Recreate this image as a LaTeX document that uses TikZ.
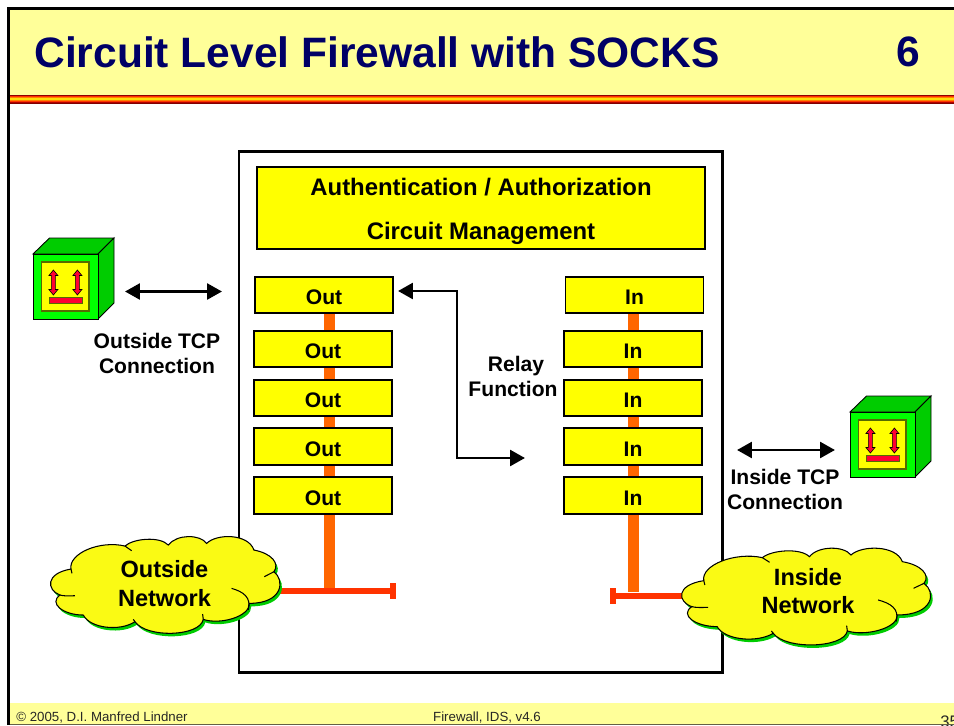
\documentclass[tikz,border=0pt]{standalone}
\usepackage{fontspec}
\setmainfont{Liberation Sans}
\usetikzlibrary{arrows.meta}
\definecolor{headfill}{HTML}{FFFF99}
\definecolor{titleblue}{HTML}{000066}
\definecolor{boxyellow}{HTML}{FFFF00}
\definecolor{trunkorange}{HTML}{FF6600}
\definecolor{stubred}{HTML}{FF3300}
\definecolor{cloudfill}{HTML}{FAFA14}
\definecolor{cubelight}{HTML}{00FF00}
\definecolor{cubedark}{HTML}{00CC00}
\definecolor{cubered}{HTML}{FF0033}
\definecolor{cubeedge}{HTML}{556B00}
\def\cloudoutline{(21.3,17.7) .. controls (20.5,13) and (30,9) .. (37.5,10.8)
    .. controls (40,8.5) and (48,7.8) .. (50.5,10.5)
    .. controls (53,7.2) and (60,7.2) .. (62,10)
    .. controls (65,7) and (74.5,7) .. (76.2,12)
    .. controls (81.5,13) and (84,16) .. (82.2,18.5)
    .. controls (85.5,21) and (85,28) .. (74.8,28)
    .. controls (75,32) and (66,34.5) .. (61,32.8)
    .. controls (60,38) and (44,38.5) .. (40.5,33.5)
    .. controls (36,36.5) and (27,35.5) .. (25,31.5)
    .. controls (19,31.5) and (14.5,28) .. (18,25.5)
    .. controls (14,24) and (13.5,19) .. (21.3,17.7) -- cycle}
\begin{document}
\begin{tikzpicture}[scale=0.2]
                \tikzstyle{every node}+=[inner sep=0pt]
                \tikzstyle{boxnode}=[draw=black, fill=boxyellow, line width=1.1pt, minimum width=2.76cm, minimum height=0.73cm, text height=11.2pt, text depth=0pt, font=\fontsize{12}{14}\selectfont\bfseries]
                \tikzstyle{plainlabel}=[align=center, font=\fontsize{12}{14.2}\selectfont\bfseries]
                \tikzstyle{cloudlabel}=[align=center, font=\fontsize{13.4}{16.4}\selectfont\bfseries]
                \tikzstyle{footlabel}=[font=\fontsize{7.55}{9}\selectfont, text=black!85]
                \tikzstyle{biarrow}=[line width=1.7pt, {Triangle[length=8.5pt,width=9pt]}-{Triangle[length=8.5pt,width=9pt]}]
                \tikzstyle{trunk}=[trunkorange, line width=6.8pt]
                \tikzstyle{stub}=[stubred, line width=3.2pt]
                \useasboundingbox (0,0) rectangle (95.4,-72.5);
                \fill [headfill] (0.9,-0.9) rectangle (95.4,-9.5);
                \foreach \i/\c in {0/red!55!black,1/stubred,2/orange,3/yellow!80!orange,4/yellow!80!orange,5/orange,6/stubred,7/red!70!black,8/red!50!black}
                    \fill [\c] (0.9,-9.5-0.1*\i) rectangle (95.4,-9.6-0.1*\i);
                \fill [headfill] (0.9,-70.3) rectangle (95.4,-72.4);
                \node [anchor=west, text=titleblue, font=\fontsize{24.2}{28}\selectfont\bfseries] (titletext) at (3.4,-5.2) {Circuit Level Firewall with SOCKS};
                \node [text=titleblue, font=\fontsize{24.2}{28}\selectfont\bfseries] (slidenum) at (90.8,-5.2) {6};
                \node [anchor=west, footlabel] (footleft) at (1.6,-71.75) {© 2005, D.I. Manfred Lindner};
                \node [footlabel] (footmid) at (48.7,-71.75) {Firewall, IDS, v4.6};
                \node [anchor=base west, footlabel, font=\fontsize{9.5}{11}\selectfont] (footnum) at (94,-72.7) {35};
                \draw [black!70!yellow, line width=0.6pt] (0.9,-72.42) -- (95.4,-72.42);
                \draw [black, line width=1.5pt] (0.85,-72.5) -- (0.85,-0.85) -- (95.4,-0.85);
                \draw [black, line width=1.7pt] (23.9,-15.1) rectangle (72.2,-67.2);
                \coordinate (outtop) at (32.95,-31);
                \coordinate (outfoot) at (32.95,-59.1);
                \coordinate (intop) at (63.35,-31);
                \coordinate (infoot) at (63.35,-59.2);
                \draw [trunk] (outtop) -- (outfoot);
                \draw [trunk] (intop) -- (infoot);
                \coordinate (outstub) at (27,-59.1);
                \coordinate (outcap) at (39.4,-59.1);
                \coordinate (instub) at (69,-59.6);
                \coordinate (incap) at (61.2,-59.6);
                \draw [stub] (outstub) -- (outcap);
                \draw [stub] (instub) -- (incap);
                \draw [stubred, line width=3.4pt] (39.3,-58.3) -- (39.3,-59.9);
                \draw [stubred, line width=3.4pt] (61.3,-58.8) -- (61.3,-60.4);
                \node [boxnode, minimum width=8.96cm, minimum height=1.64cm] (authbox) at (48.1,-20.8) {};
                \node [plainlabel, font=\fontsize{13.6}{16}\selectfont\bfseries] (authtext) at (48.1,-18.7) {Authentication / Authorization};
                \node [plainlabel, font=\fontsize{13.6}{16}\selectfont\bfseries] (circuittext) at (48.1,-23.3) {Circuit Management};
                \node [boxnode] (out1) at (32.4,-29.5) {Out};
                \node [boxnode] (out2) at (32.3,-34.9) {Out};
                \node [boxnode] (out3) at (32.3,-39.8) {Out};
                \node [boxnode] (out4) at (32.3,-44.65) {Out};
                \node [boxnode] (out5) at (32.3,-49.55) {Out};
                \node [boxnode] (in1) at (63.45,-29.5) {In};
                \node [boxnode] (in2) at (63.3,-34.9) {In};
                \node [boxnode] (in3) at (63.3,-39.8) {In};
                \node [boxnode] (in4) at (63.3,-44.65) {In};
                \node [boxnode] (in5) at (63.3,-49.55) {In};
                \coordinate (relaystart) at (39.8,-29.1);
                \coordinate (relaymid) at (45.7,-45.8);
                \coordinate (relayend) at (52.5,-45.8);
                \draw [biarrow] (relaystart) -| (relaymid) -- (relayend);
                \node [plainlabel] (relaytext) at (51.3,-37.6) {\hspace*{0.12cm}Relay\\Function};
                \coordinate (outtcpa) at (12.5,-29.15);
                \coordinate (outtcpb) at (22.2,-29.15);
                \draw [biarrow] (outtcpa) -- (outtcpb);
                \node [plainlabel] (outtcptext) at (15.7,-35.35) {Outside TCP\\Connection};
                \coordinate (intcpa) at (73.7,-45);
                \coordinate (intcpb) at (83.5,-45);
                \draw [biarrow] (intcpa) -- (intcpb);
                \node [plainlabel] (intcptext) at (78.5,-48.95) {Inside TCP\\Connection};
                \foreach \cx/\cy in {3.3/-31.9,85/-47.7} {
                    \begin{scope}[shift={(\cx,\cy)}]
                        \draw [black, fill=cubedark, line width=0.5pt] (0,6.5) -- (1.65,8.1) -- (8.1,8.1) -- (6.5,6.5) -- cycle;
                        \draw [black, fill=cubedark, line width=0.5pt] (6.5,0) -- (8.1,1.6) -- (8.1,8.1) -- (6.5,6.5) -- cycle;
                        \draw [black, fill=cubelight, line width=0.5pt] (0,0) rectangle (6.5,6.5);
                        \draw [cubeedge, fill=boxyellow, line width=0.7pt] (0.85,0.8) rectangle (5.6,5.7);
                        \foreach \ax in {2.04,4.44}
                            \draw [black, fill=cubered, line width=0.35pt] (\ax,4.9) -- (\ax+0.45,4.35) -- (\ax+0.2,4.35) -- (\ax+0.2,2.95) -- (\ax+0.45,2.95) -- (\ax,2.4) -- (\ax-0.45,2.95) -- (\ax-0.2,2.95) -- (\ax-0.2,4.35) -- (\ax-0.45,4.35) -- cycle;
                        \draw [cubeedge, fill=cubered, line width=0.35pt] (1.6,1.6) rectangle (4.9,2.15);
                    \end{scope}
                }
                \foreach \cx/\cy/\sx in {5/-58.17/1,68.1/-59.33/1.085} {
                    \begin{scope}[shift={(\cx-5*\sx,\cy)}, xscale=\sx/3, yscale=-1/3, shift={(0,-21.5)}]
                        \fill [cubedark, shift={(0.6,0.9)}] \cloudoutline;
                        \draw [black, fill=cloudfill, line width=0.6pt] \cloudoutline;
                        \draw [black, line width=0.6pt] (22.5,25.7) .. controls (20.5,25.8) and (19,25.8) .. (18,25.5);
                        \draw [black, line width=0.6pt] (21.3,17.7) -- (21.6,19);
                        \draw [black, line width=0.6pt] (37.5,10.8) -- (39.5,12.2);
                        \draw [black, line width=0.6pt] (82.2,18.5) -- (79.3,20);
                        \draw [black, line width=0.6pt] (69.5,23.5) .. controls (73,24.5) and (75.5,26.2) .. (74.5,30);
                        \draw [black, line width=0.6pt] (61,32.8) -- (60.8,31.2);
                        \draw [black, line width=0.6pt] (40.5,33.5) -- (40,32.8);
                    \end{scope}
                }
                \node [cloudlabel] (outnet) at (16.45,-58.35) {Outside\\Network};
                \node [cloudlabel] (innet) at (80.8,-59.1) {Inside\\Network};
\end{tikzpicture}
\end{document}
